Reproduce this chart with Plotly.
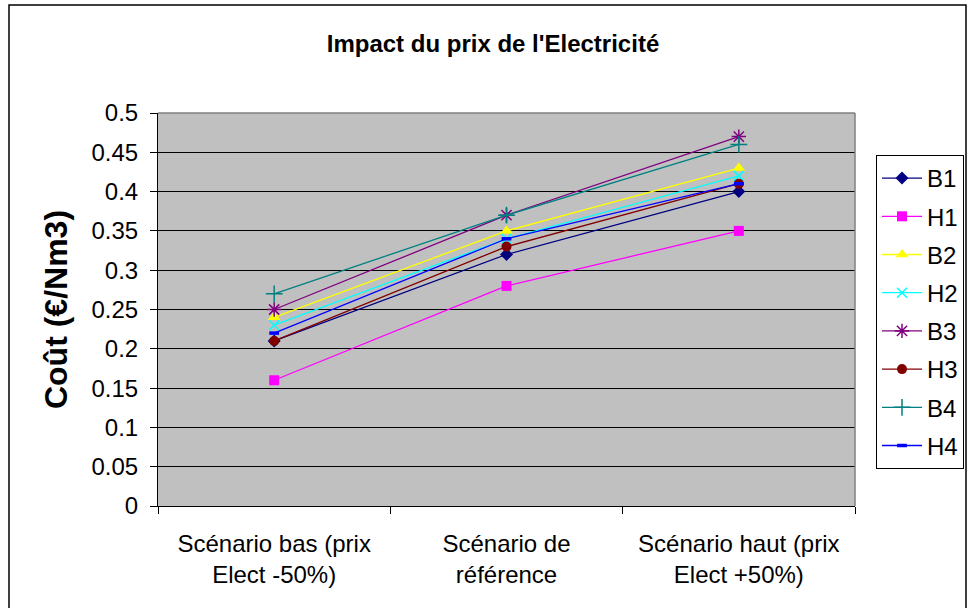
import plotly.graph_objects as go

# Scenario categories (x axis) and cost per scenario for each configuration
scenarios = [
    "Scénario bas (prix<br>Elect -50%)",
    "Scénario de<br>référence",
    "Scénario haut (prix<br>Elect +50%)",
]
series_names = ["B1", "H1", "B2", "H2", "B3", "H3", "B4", "H4"]
b1 = [0.21, 0.32, 0.40]
h1 = [0.16, 0.28, 0.35]
b2 = [0.24, 0.35, 0.43]
h2 = [0.23, 0.34, 0.42]
b3 = [0.25, 0.37, 0.47]
h3 = [0.21, 0.33, 0.41]
b4 = [0.27, 0.37, 0.46]
h4 = [0.22, 0.34, 0.41]
y_ticks = [0, 0.05, 0.1, 0.15, 0.2, 0.25, 0.3, 0.35, 0.4, 0.45, 0.5]

series_values = [b1, h1, b2, h2, b3, h3, b4, h4]

# Excel-like line styles per series: (colour, symbol, size, open-marker line width)
styles = [
    ("#000080", "diamond", 10, 0),
    ("#FF00FF", "square", 10, 0),
    ("#FFFF00", "triangle-up", 11, 0),
    ("#00FFFF", "x-thin-open", 10, 1.5),
    ("#800080", "asterisk-open", 12, 1.5),
    ("#800000", "circle", 10, 0),
    ("#008080", "cross-thin-open", 12, 1.5),
    ("#0000FF", "line-ew-open", 7, 3.5),
]

FONT = "Liberation Sans, Arial, sans-serif"

fig = go.Figure()
for name, vals, (color, symbol, size, lw) in zip(series_names, series_values, styles):
    marker = dict(symbol=symbol, size=size, color=color)
    if lw:
        marker["line"] = dict(color=color, width=lw)
    else:
        marker["line"] = dict(width=0)
    fig.add_trace(go.Scatter(
        x=scenarios, y=vals, name=name, mode="lines+markers",
        line=dict(color=color, width=1.3), marker=marker,
        legendgroup=name,
    ))

W, H = 969, 608
L, R, T, B = 158, 114, 113, 102
pw, ph = W - L - R, H - T - B


def px_x(x):
    return (x - L) / pw


def px_y(y):
    return (H - B - y) / ph


fig.update_layout(
    width=W, height=H,
    margin=dict(l=L, r=R, t=T, b=B, autoexpand=False),
    paper_bgcolor="white",
    plot_bgcolor="#C0C0C0",
    font=dict(family=FONT, size=24, color="black"),
    title=dict(
        text="<b>Impact du prix de l'Electricité</b>",
        font=dict(family=FONT, size=24, color="black"),
        x=px_x(493), xref="paper", xanchor="center",
        y=1 - 44 / H, yanchor="middle",
    ),
    showlegend=True,
    legend=dict(
        x=px_x(876), y=px_y(155), xanchor="left", yanchor="top",
        xref="paper", yref="paper",
        bgcolor="white", bordercolor="black", borderwidth=1,
        font=dict(family=FONT, size=24, color="black"),
        traceorder="grouped", tracegroupgap=4,
        itemwidth=40,
    ),
    xaxis=dict(
        type="category", range=[-0.5, 2.5],
        tickson="boundaries", ticks="outside", ticklen=7, tickcolor="black",
        showline=True, linecolor="black", linewidth=1,
        showgrid=False, zeroline=False,
        tickfont=dict(family=FONT, size=24, color="black"),
        ticklabelstandoff=16,
    ),
    yaxis=dict(
        range=[0, 0.5], tickvals=y_ticks,
        ticktext=[f"{v:g}" for v in y_ticks],
        ticks="outside", ticklen=7, tickcolor="black",
        showline=True, linecolor="black", linewidth=1,
        showgrid=True, gridcolor="black", gridwidth=1,
        zeroline=False,
        tickfont=dict(family=FONT, size=24, color="black"),
        ticklabelstandoff=7,
        title=dict(text="<b>Coût (€/Nm3)</b>",
                   font=dict(family=FONT, size=32, color="black"),
                   standoff=14),
    ),
    shapes=[
        # grey top and right edges of the plot area
        dict(type="line", xref="paper", yref="paper", x0=0, x1=1, y0=1, y1=1,
             line=dict(color="#808080", width=1.5), layer="above"),
        dict(type="line", xref="paper", yref="paper", x0=1, x1=1, y0=0, y1=1,
             line=dict(color="#808080", width=1.5), layer="above"),
        # chart area frame
        dict(type="rect", xref="paper", yref="paper",
             x0=px_x(9), x1=px_x(966), y0=px_y(630), y1=px_y(5),
             line=dict(color="black", width=1.5), fillcolor="rgba(0,0,0,0)",
             layer="below"),
    ],
)

fig.write_html("out.html")
